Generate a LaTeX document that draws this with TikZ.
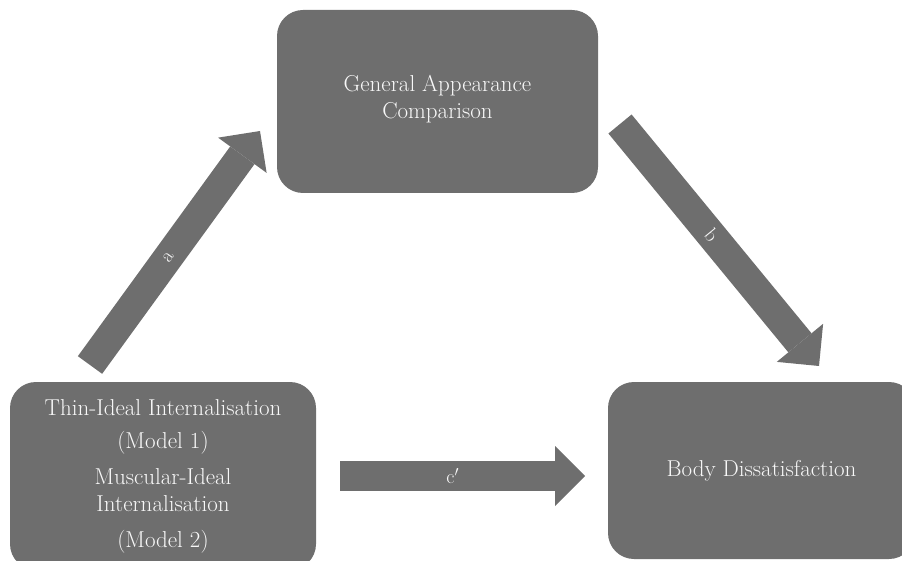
\documentclass[tikz,border=0pt]{standalone}
\usetikzlibrary{arrows.meta}
\definecolor{boxgray}{RGB}{110,110,110}
\definecolor{txtwhite}{RGB}{248,248,248}

\begin{document}
\begin{tikzpicture}[%
    x=1pt, y=-1pt,               % pixel units, y going down
    font=\fontsize{23}{27}\selectfont,
    ]
% -------------------------------------------------
% Box and arrow styles
\tikzset{
  box/.style={fill=boxgray, text=txtwhite, rounded corners=26pt, align=center, inner sep=0pt},
  % fat block arrows between the boxes
  blk/.style={draw=boxgray, line width=30pt, -{Triangle[length=30pt, width=60pt, line width=0pt]}},
  lbl/.style={pos=0.46, sloped, text=txtwhite, font=\fontsize{20}{20}\selectfont}
}
\useasboundingbox (0,0) rectangle (902,561);
\clip (0,0) rectangle (902,561);
% -------------------------------------------------
% The three boxes
\node [box, minimum width=321pt, minimum height=183pt, text depth=10pt] (comp) at (437.5,101.5)
  {General Appearance\\Comparison};
\node [box, minimum width=306pt, minimum height=188pt] (intern) at (163,476)
  {Thin-Ideal Internalisation\\[6pt](Model 1)\\[9pt]Muscular-Ideal\\Internalisation\\[9pt](Model 2)};
\node [box, minimum width=307pt, minimum height=177pt] (dissat) at (761.5,470.5)
  {Body Dissatisfaction};

% Arrow ends, kept clear of the boxes
\coordinate (a0) at (90,365);   \coordinate (a1) at (260,131);
\coordinate (b0) at (620,124);  \coordinate (b1) at (819,366);
\coordinate (c0) at (340,476);  \coordinate (c1) at (585,476);

\draw[blk] (a0) -- node[lbl] {a} (a1);		%intern,comp
\draw[blk] (b0) -- node[lbl] {b} (b1);		%comp,dissat
\draw[blk] (c0) -- node[lbl] {c$'$} (c1);	%intern,dissat
% -------------------------------------------------
\end{tikzpicture}
\end{document}
